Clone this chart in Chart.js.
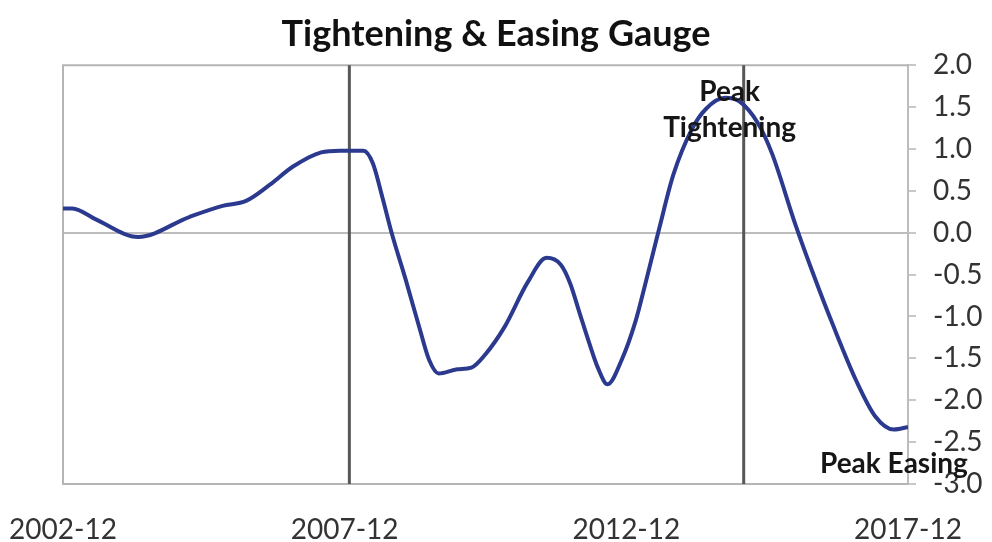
<!DOCTYPE html>
<html>
<head>
<meta charset="utf-8">
<script src="https://cdn.jsdelivr.net/npm/chart.js@4"></script>
<style>
  html, body { margin: 0; padding: 0; background: #fff; }
  #wrap { width: 992px; height: 542px; }
</style>
</head>
<body>
<div id="wrap"><canvas id="gauge"></canvas></div>
<script>
// ── Données ───────────────────────────────────────────────────────
const months = [
  "2002-12", "2003-02", "2003-07", "2004-04", "2005-03", "2005-10", "2006-03",
  "2006-08", "2007-01", "2007-07", "2007-11", "2008-04", "2008-06", "2008-08",
  "2008-10", "2009-01", "2009-04", "2009-06", "2009-08", "2009-12", "2010-03",
  "2010-06", "2010-10", "2011-03", "2011-07", "2011-10", "2011-12", "2012-02",
  "2012-04", "2012-06", "2012-08", "2012-11", "2013-02", "2013-04", "2013-07",
  "2013-10", "2014-02", "2014-05", "2014-09", "2014-12", "2015-04", "2015-07",
  "2015-12", "2016-04", "2016-08", "2017-01", "2017-05", "2017-09", "2017-12"
];
const gauge = [
  0.29, 0.29, 0.16, -0.05, 0.19, 0.32, 0.38,
  0.57, 0.79, 0.96, 0.98, 0.98, 0.83, 0.43,
  0.00, -0.56, -1.15, -1.52, -1.68, -1.63, -1.61,
  -1.45, -1.13, -0.59, -0.30, -0.38, -0.60, -0.95,
  -1.30, -1.62, -1.81, -1.52, -1.05, -0.62, 0.05,
  0.69, 1.24, 1.48, 1.61, 1.57, 1.31, 0.95,
  0.10, -0.52, -1.10, -1.77, -2.19, -2.35, -2.32
];
const xTickLabels = ["2002-12", "2007-12", "2012-12", "2017-12"];
const markerDates = ["2008-01", "2015-01"];
const notes = [
  { lines: ["Peak", "Tightening"], date: "2014-10", value: 1.68 },
  { lines: ["Peak Easing"], date: "2017-09", value: -2.76 }
];

// ── Conversion date → index de mois ───────────────────────────────
const START = months[0];
function monthIndex(s) {
  const [y, m] = s.split("-").map(Number);
  const [y0, m0] = START.split("-").map(Number);
  return (y - y0) * 12 + (m - m0);
}
function monthLabel(i) {
  const [y0, m0] = START.split("-").map(Number);
  const tot = y0 * 12 + (m0 - 1) + i;
  return `${Math.floor(tot / 12)}-${String((tot % 12) + 1).padStart(2, "0")}`;
}

const points = months.map((m, i) => ({ x: monthIndex(m), y: gauge[i] }));

// ── Cadre, lignes verticales et annotations ───────────────────────
const decorPlugin = {
  id: "decor",
  beforeDatasetsDraw(chart) {
    const { ctx, chartArea: a, scales: { x } } = chart;
    ctx.save();
    ctx.strokeStyle = "#b5b5b5";
    ctx.lineWidth = 2;
    ctx.beginPath();
    ctx.moveTo(a.right, a.top); ctx.lineTo(a.left, a.top);
    ctx.lineTo(a.left, a.bottom); ctx.lineTo(a.right, a.bottom);
    ctx.stroke();
    ctx.strokeStyle = "#575757";
    ctx.lineWidth = 3;
    for (const d of markerDates) {
      const px = x.getPixelForValue(monthIndex(d));
      ctx.beginPath();
      ctx.moveTo(px, a.top); ctx.lineTo(px, a.bottom);
      ctx.stroke();
    }
    ctx.restore();
  },
  afterDraw(chart) {
    const { ctx, scales: { x, y } } = chart;
    ctx.save();
    ctx.fillStyle = "#161616";
    ctx.font = "bold 28px Lato";
    ctx.textAlign = "center";
    ctx.textBaseline = "middle";
    for (const n of notes) {
      const px = x.getPixelForValue(monthIndex(n.date));
      let py = y.getPixelForValue(n.value);
      for (const line of n.lines) {
        ctx.fillText(line, px, py);
        py += 36;
      }
    }
    ctx.restore();
  }
};

new Chart(document.getElementById("gauge"), {
  type: "line",
  data: {
    datasets: [{
      label: "Tightening & Easing Gauge",
      data: points,
      borderColor: "#2b3a8f",
      borderWidth: 4,
      pointRadius: 0,
      cubicInterpolationMode: "monotone",
      fill: false
    }]
  },
  options: {
    responsive: true,
    maintainAspectRatio: false,
    animation: false,
    layout: { padding: 0 },
    plugins: {
      legend: { display: false },
      tooltip: { enabled: false },
      title: {
        display: true,
        text: "Tightening & Easing Gauge",
        color: "#111",
        font: { family: "Lato", size: 36, weight: "bold" },
        padding: { top: 13, bottom: 9 }
      }
    },
    scales: {
      x: {
        type: "linear",
        min: 0,
        max: monthIndex(xTickLabels[xTickLabels.length - 1]),
        afterBuildTicks: (axis) => {
          axis.ticks = xTickLabels.map((l) => ({ value: monthIndex(l) }));
        },
        afterFit: (axis) => {
          axis.height = 58;
          axis.paddingLeft = 63;
          axis.paddingRight = 0;
        },
        ticks: {
          color: "#333",
          font: { family: "Lato", size: 28 },
          maxRotation: 0,
          padding: 21,
          callback: (v) => monthLabel(v)
        },
        grid: { display: false },
        border: { display: false }
      },
      y: {
        position: "right",
        min: -3,
        max: 2,
        afterFit: (axis) => { axis.width = 84; },
        ticks: {
          stepSize: 0.5,
          color: "#333",
          font: { family: "Lato", size: 28 },
          padding: 17,
          callback: (v) => v.toFixed(1)
        },
        grid: {
          color: (c) => (c.tick && c.tick.value === 0 ? "#bdbdbd" : "rgba(0,0,0,0)"),
          tickColor: "#c8c8c8",
          tickLength: 8,
          lineWidth: 2
        },
        border: { display: true, color: "#bdbdbd", width: 2 }
      }
    }
  },
  plugins: [decorPlugin]
});
</script>
</body>
</html>
